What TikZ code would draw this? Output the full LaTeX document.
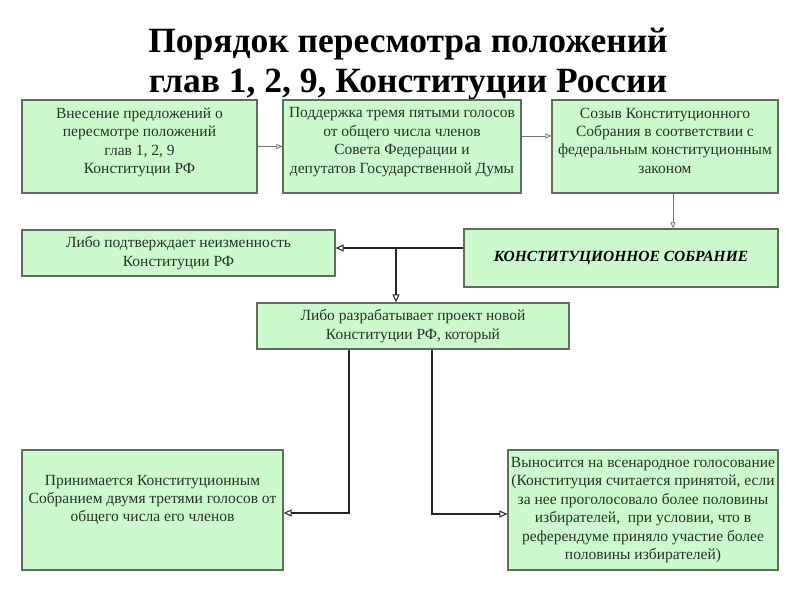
\documentclass[tikz,border=0pt]{standalone}
\usepackage{fontspec}
\setmainfont{Liberation Serif}
\usetikzlibrary{arrows.meta}
\definecolor{boxfill}{HTML}{CCFACC}
\definecolor{boxline}{HTML}{5E6E5E}
\definecolor{boxtext}{HTML}{263326}
\tikzset{
  blk/.style={draw=boxline, fill=boxfill, line width=1.2pt, text=boxtext, align=center,
    inner sep=2pt, font=\fontsize{15.5}{18.4}\selectfont},
  thinarrow/.style={draw=black!55, line width=0.8pt, -{Triangle[open,length=6pt,width=5pt]}},
  thickarrow/.style={draw=black!85, line width=2pt, -{Triangle[open,length=8pt,width=7pt,line width=1pt]}},
}
\newcommand{\blk}[7][]{\node[blk,#1,minimum width=#5,minimum height=#6] (#2) at (#3,#4) {#7};}

\begin{document}
\begin{tikzpicture}[x=1pt,y=-1pt]
        \useasboundingbox (0,0) rectangle (800,600);
        % title
        \node[font=\fontsize{35.5}{40}\selectfont\bfseries, align=center] (title) at (408,64.5)
            {Порядок пересмотра положений\\глав 1, 2, 9, Конституции России};
        % row1
        \blk[text depth=12pt]{b1}{139.5}{146.5}{235pt}{93pt}{Внесение предложений о\\пересмотре положений\\глав 1, 2, 9\\Конституции РФ}
        \blk[text depth=12pt]{b2}{402}{146.5}{238pt}{93pt}{Поддержка тремя пятыми голосов\\от общего числа членов\\Совета Федерации и\\депутатов Государственной Думы}
        \blk[text depth=12pt]{b3}{665}{146.5}{226pt}{93pt}{Созыв Конституционного\\Собрания в соответствии с\\федеральным конституционным\\законом}
        % row2
        \blk[text=black, font=\fontsize{15.5}{18.4}\selectfont\bfseries\itshape]{cs}{621}{258}{314pt}{58pt}{КОНСТИТУЦИОННОЕ СОБРАНИЕ}
        \blk{conf}{178.5}{253}{313pt}{46pt}{Либо подтверждает неизменность\\Конституции РФ}
        % row3
        \blk{dev}{413}{326}{312pt}{46pt}{Либо разрабатывает проект новой\\Конституции РФ, который}
        % row4
        \blk[text depth=23pt]{acc}{152.5}{510}{261pt}{120pt}{Принимается Конституционным\\Собранием двумя третями голосов от\\общего числа его членов}
        \blk{ref}{643}{510}{270pt}{120pt}{Выносится на всенародное голосование\\(Конституция считается принятой, если\\за нее проголосовало более половины\\избирателей,~ при условии, что в\\референдуме приняло участие более\\половины избирателей)}

        % arrows
        \draw[thinarrow] (b1.east) -- (b2.west);
        \draw[thinarrow] (b2.east |- 0,136) -- (b3.west |- 0,136);
        \draw[thinarrow] (b3.south -| 673,0) -- (cs.north -| 673,0);
        \coordinate (split) at (396,248);
        \draw[thickarrow] (cs.west |- split) -- (conf.east |- split);
        \draw[thickarrow] (split) -- (dev.north -| split);
        \draw[thickarrow] (dev.south -| 349,0) |- (acc.east |- 0,513);
        \draw[thickarrow] (dev.south -| 432,0) |- (ref.west |- 0,514);
    \end{tikzpicture}
\end{document}
